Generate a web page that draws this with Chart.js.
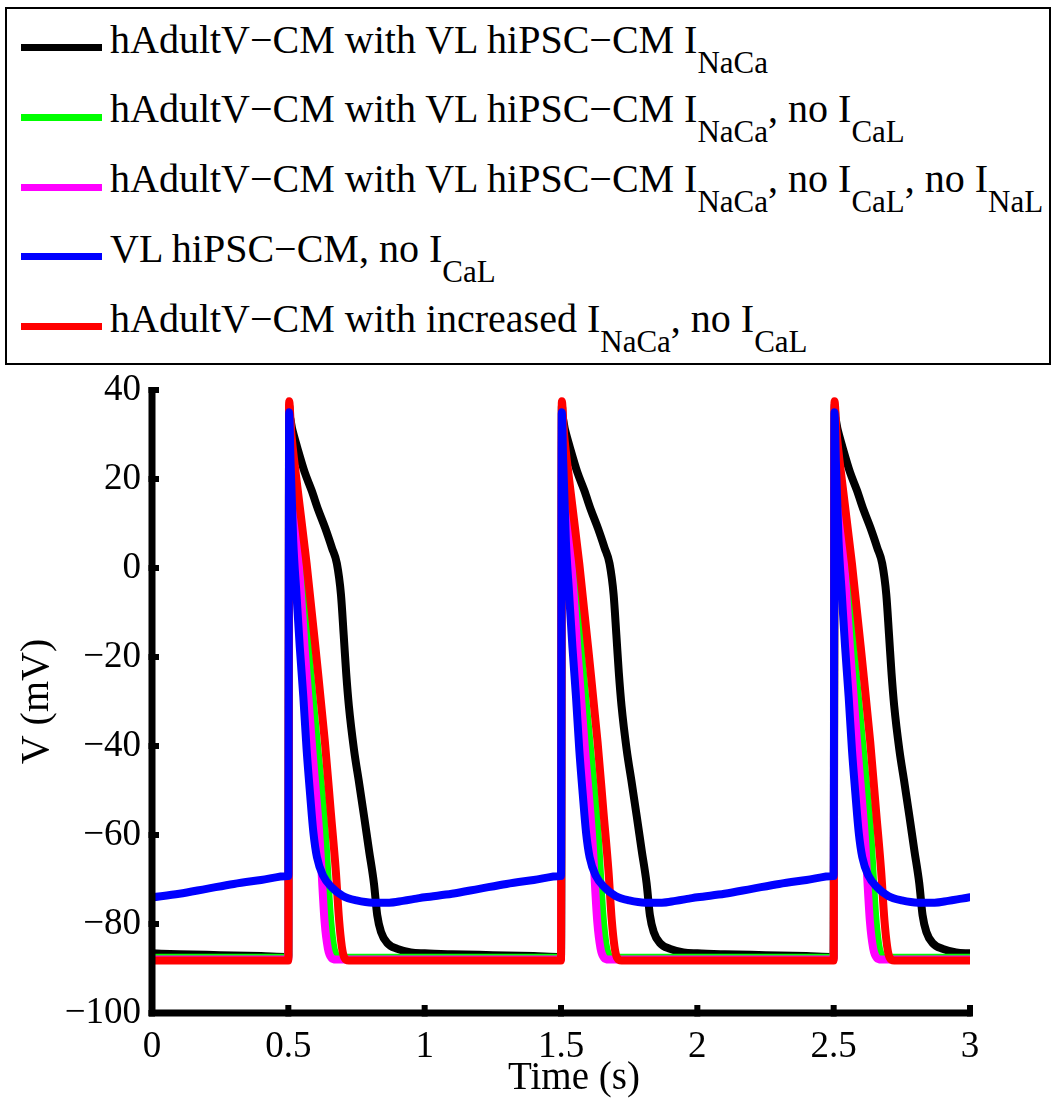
<!DOCTYPE html>
<html>
<head>
<meta charset="utf-8">
<script src="https://cdn.jsdelivr.net/npm/chart.js@4.4.1/dist/chart.umd.min.js"></script>
<style>
    html, body { margin: 0; padding: 0; background: #fff; }
    #wrap { position: relative; width: 1057px; height: 1106px; overflow: hidden;
            font-family: 'Liberation Serif', 'Times New Roman', serif; color: #000; }
    #chart { position: absolute; left: 0; top: 0; }
    #legendBox { position: absolute; left: 5px; top: 7px; width: 1046px; height: 358px;
                 border: 2px solid #000; box-sizing: border-box; background: #fff; }
    .swatch { position: absolute; left: 21px; width: 81px; height: 7px; }
    .label { position: absolute; left: 110px; font-size: 40px; line-height: 40px; white-space: nowrap; }
    .label sub { font-size: 31px; line-height: 1; vertical-align: -20px; }
</style>
</head>
<body>
<div id="wrap">
    <canvas id="chart" width="1057" height="1106"></canvas>
    <div id="legendBox"></div>
</div>
<script>
// ===== DATI =====
// Ogni traccia: un battito, tempo relativo allo stimolo (s) e V (mV)
const seriesLabels = [
    'hAdultV−CM with VL hiPSC−CM I_{NaCa}',
    'hAdultV−CM with VL hiPSC−CM I_{NaCa}, no I_{CaL}',
    'hAdultV−CM with VL hiPSC−CM I_{NaCa}, no I_{CaL}, no I_{NaL}',
    'VL hiPSC−CM, no I_{CaL}',
    'hAdultV−CM with increased I_{NaCa}, no I_{CaL}'
];
const seriesColors = ['#000000', '#00ff00', '#ff00ff', '#0000ff', '#ff0000'];

// istanti di stimolo (s); -0.5 fornisce la coda del battito precedente a t = 0
const beatOnsets = [-0.5, 0.5, 1.5, 2.5];

const blackTau = [0, 0.004, 0.015, 0.033, 0.06, 0.085, 0.11, 0.135, 0.16, 0.178, 0.193, 0.203, 0.212, 0.222, 0.241, 0.26, 0.278, 0.296, 0.314, 0.326, 0.34, 0.363, 0.4, 0.449, 0.5, 0.6, 0.75, 0.9, 0.999];
const blackV   = [-87.4, 34, 31, 27, 21.5, 17.5, 13, 9, 4.5, 1, -6, -15, -23.5, -31, -40.9, -48.5, -55.9, -63.5, -70.9, -78, -81.8, -84.3, -85.6, -86.4, -86.6, -86.8, -87.0, -87.2, -87.4];

const greenTau = [0, 0.003, 0.01, 0.025, 0.048, 0.073, 0.104, 0.134, 0.152, 0.163, 0.172, 0.185, 0.5, 0.999];
const greenV   = [-87.6, 36.5, 29, 15, 0, -18.5, -39, -59.5, -78, -84.5, -86.8, -87.6, -87.6, -87.6];

const magentaTau = [0, 0.003, 0.01, 0.025, 0.042, 0.06, 0.088, 0.115, 0.133, 0.145, 0.158, 0.175, 0.5, 0.999];
const magentaV   = [-88, 36.5, 28, 12, -2, -18.2, -40.8, -61, -79.5, -85.5, -87.6, -88, -88, -88];

const blueTau = [0, 0.003, 0.008, 0.018, 0.03, 0.042, 0.055, 0.067, 0.08, 0.092, 0.105, 0.128, 0.16, 0.2, 0.25, 0.31, 0.37, 0.42, 0.47, 0.5, 0.6, 0.7, 0.8, 0.9, 0.999];
const blueV   = [-69.2, 35, 24, 6, -6, -17.8, -29, -40.8, -51, -59.5, -65, -69.2, -71.8, -73.7, -74.7, -75.2, -75.2, -74.8, -74.3, -74, -73.2, -72.1, -71, -70.1, -69.2];

const redTau = [0, 0.003, 0.01, 0.03, 0.067, 0.103, 0.134, 0.156, 0.174, 0.186, 0.196, 0.205, 0.222, 0.5, 0.999];
const redV   = [-88.2, 37.5, 31, 19.8, 1, -20, -39, -55, -68, -79, -85, -87.5, -88.2, -88.2, -88.2];

// tick assi
const xTicks = [0, 0.5, 1, 1.5, 2, 2.5, 3];
const yTicks = [-100, -80, -60, -40, -20, 0, 20, 40];

const FONT = "'Liberation Serif', 'Times New Roman', serif";

// Ripete il battito letto a ogni stimolo, dentro la finestra 0..3 s
function buildTrace(tau, v) {
    const pts = [];
    beatOnsets.forEach(onset => {
        tau.forEach((tt, i) => {
            const t = +(onset + tt).toFixed(4);
            if (t >= 0 && t <= 3) pts.push({ x: t, y: v[i] });
        });
    });
    return pts;
}

// ===== LEGENDA (HTML, per i pedici) =====
const wrap = document.getElementById('wrap');
const legendBaseline0 = 53;
const legendRowGap = 69.8;
seriesLabels.forEach((lab, i) => {
    const base = legendBaseline0 + i * legendRowGap;
    const sw = document.createElement('div');
    sw.className = 'swatch';
    sw.style.top = (base - 9) + 'px';
    sw.style.background = seriesColors[i];
    wrap.appendChild(sw);

    const tx = document.createElement('div');
    tx.className = 'label';
    tx.style.top = (base - 33.5) + 'px';
    tx.innerHTML = lab.replace(/_\{([^}]*)\}/g, '<sub>$1</sub>');
    wrap.appendChild(tx);
});

// ===== ASSI STILE MATLAB =====
const axesPlugin = {
    id: 'matlabAxes',
    afterDatasetsDraw(chart) {
        const { ctx, chartArea: a, scales: { x, y } } = chart;
        ctx.save();
        ctx.strokeStyle = '#000';
        ctx.lineCap = 'butt';
        ctx.lineWidth = 7;
        ctx.beginPath();
        ctx.moveTo(a.left, a.top - 3);
        ctx.lineTo(a.left, a.bottom + 3.5);
        ctx.moveTo(a.left - 3.5, a.bottom);
        ctx.lineTo(a.right + 1.5, a.bottom);
        ctx.stroke();

        // tick verso l'interno
        ctx.lineWidth = 6;
        ctx.beginPath();
        yTicks.forEach(v => {
            const py = y.getPixelForValue(v);
            ctx.moveTo(a.left - 3.5, py);
            ctx.lineTo(a.left + 7, py);
        });
        xTicks.forEach(v => {
            const px = x.getPixelForValue(v);
            ctx.moveTo(px, a.bottom + 3.5);
            ctx.lineTo(px, a.bottom - 8);
        });
        ctx.stroke();

        // titoli assi
        ctx.fillStyle = '#000';
        ctx.textAlign = 'center';
        ctx.textBaseline = 'alphabetic';
        ctx.font = '39px ' + FONT;
        ctx.fillText('Time (s)', 574, 1089);
        ctx.font = '40px ' + FONT;
        ctx.translate(48, (a.top + a.bottom) / 2);
        ctx.rotate(-Math.PI / 2);
        ctx.fillText('V (mV)', 0, 0);
        ctx.restore();
    }
};

const fmt = v => (v < 0 ? '\u2212' + Math.abs(v) : String(v));

const traces = [
    { tau: blackTau, v: blackV, order: 5 },
    { tau: greenTau, v: greenV, order: 4 },
    { tau: magentaTau, v: magentaV, order: 3 },
    { tau: blueTau, v: blueV, order: 1 },
    { tau: redTau, v: redV, order: 2 }
];

new Chart(document.getElementById('chart'), {
    type: 'line',
    data: {
        datasets: traces.map((tr, i) => ({
            label: seriesLabels[i],
            data: buildTrace(tr.tau, tr.v),
            borderColor: seriesColors[i],
            backgroundColor: seriesColors[i],
            order: tr.order,
            fill: false,
            cubicInterpolationMode: 'monotone'
        }))
    },
    options: {
        responsive: false,
        animation: false,
        devicePixelRatio: 1,
        layout: { padding: { top: 390, right: 87, bottom: 0, left: 0 } },
        plugins: { legend: { display: false }, tooltip: { enabled: false } },
        elements: {
            point: { radius: 0 },
            line: { borderWidth: 8, borderJoinStyle: 'round', borderCapStyle: 'round' }
        },
        scales: {
            x: {
                type: 'linear', min: 0, max: 3,
                afterBuildTicks: s => { s.ticks = xTicks.map(v => ({ value: v })); },
                ticks: { font: { family: FONT, size: 37 }, color: '#000', padding: 4, maxRotation: 0, autoSkip: false, callback: fmt },
                grid: { display: false },
                border: { display: false },
                afterFit: s => { s.height = 93; }
            },
            y: {
                type: 'linear', min: -100, max: 40,
                afterBuildTicks: s => { s.ticks = yTicks.map(v => ({ value: v })); },
                ticks: { font: { family: FONT, size: 37 }, color: '#000', padding: 3, callback: fmt },
                grid: { display: false },
                border: { display: false },
                afterFit: s => { s.width = 152; }
            }
        }
    },
    plugins: [axesPlugin]
});
</script>
</body>
</html>
